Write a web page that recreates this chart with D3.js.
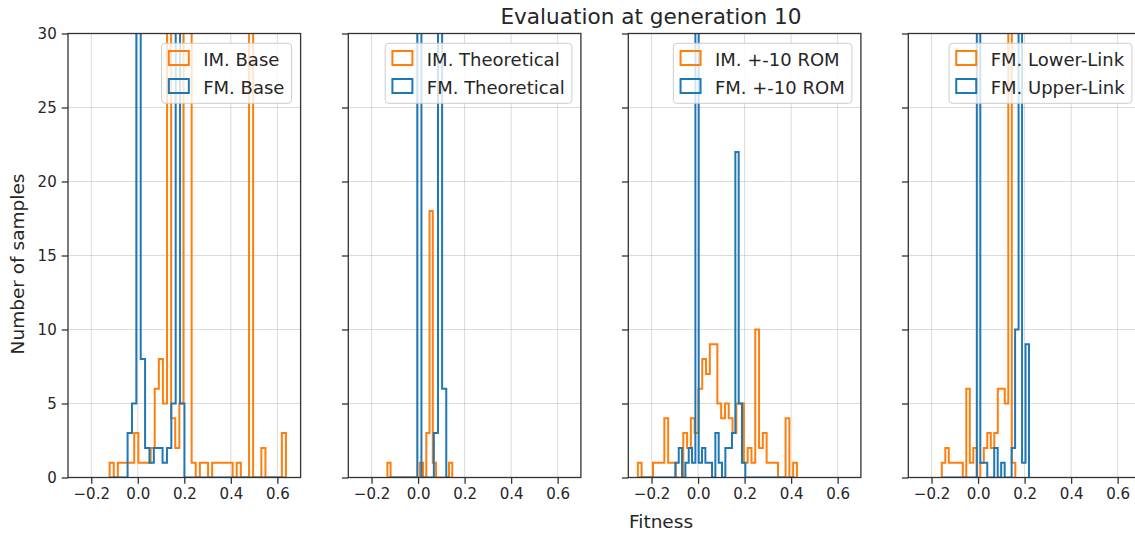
<!DOCTYPE html>
<html>
<head>
<meta charset="utf-8">
<script src="https://cdn.jsdelivr.net/npm/d3@7/dist/d3.min.js"></script>
<style>
  body { margin: 0; background: #fff; }
  text { font-family: "DejaVu Sans", sans-serif; fill: #262626; }
</style>
</head>
<body>
<svg id="chart" width="1135" height="533"></svg>
<script>
// ---- data ----
const xTicks = [-0.2, 0.0, 0.2, 0.4, 0.6];
const yTicks = [0, 5, 10, 15, 20, 25, 30];

const imLabels = ["IM. Base", "IM. Theoretical", "IM. +-10 ROM", "FM. Lower-Link"];
const fmLabels = ["FM. Base", "FM. Theoretical", "FM. +-10 ROM", "FM. Upper-Link"];

// histogram ranges [first edge, last edge] and bin counts
const imBaseRange = [-0.121, 0.637];
const imBaseCounts = [1,0,1,1,1,1,3,1,1,1,2,6,8,5,40,4,2,5,38,42,1,0,1,1,0,1,1,1,1,1,0,1,0,0,35,0,0,2,0,0,0,0,3];
const fmBaseRange = [-0.119, 0.633];
const fmBaseCounts = [0,0,0,0,3,5,40,8,2,1,2,2,1,2,5,42,5,0,0,0,0,0,0,0,0,0,0,0,0,0,0,0,0,0,0,0,0,0,0,0];

const imTheoRange = [-0.132, 0.147];
const imTheoCounts = [1,0,0,0,0,0,0,0,0,0,1,0,3,18,1,0,0,0,0,1];
const fmTheoRange = [-0.128, 0.139];
const fmTheoCounts = [0,0,0,0,0,0,0,45,0,0,0,3,40,6,0];

const imRomRange = [-0.259, 0.425];
const imRomCounts = [1,0,0,0,1,1,1,4,1,1,0,0,3,2,4,3,6,8,7,9,9,5,4,5,4,3,5,5,1,2,1,10,2,3,1,1,1,0,0,4,0,1];
const fmRomRange = [-0.255, 0.418];
const fmRomCounts = [0,0,0,0,0,0,0,0,0,0,0,1,2,0,1,2,1,45,1,2,1,1,0,3,1,0,2,2,3,22,5,1,0,0,0,0,0,0,0,0,0,0,0,0,0,0,0];

const lowerLinkRange = [-0.156, 0.160];
const lowerLinkCounts = [1,2,1,1,1,1,0,6,1,2,0,1,2,3,2,3,6,6,5,40,1];
const upperLinkRange = [-0.155, 0.219];
const upperLinkCounts = [0,0,0,0,0,0,0,0,0,0,45,1,1,0,0,2,0,1,0,0,2,10,40,1,9];

const imRanges = [imBaseRange, imTheoRange, imRomRange, lowerLinkRange];
const imCounts = [imBaseCounts, imTheoCounts, imRomCounts, lowerLinkCounts];
const fmRanges = [fmBaseRange, fmTheoRange, fmRomRange, upperLinkRange];
const fmCounts = [fmBaseCounts, fmTheoCounts, fmRomCounts, upperLinkCounts];

// ---- layout ----
const orange = "#ff7f0e", blue = "#1f77b4";
const panelLeft = [68, 348.3, 628.3, 908.3];
const panelW = 232.6;
const plotTop = 33.5, plotBottom = 477.5;
const plotH = plotBottom - plotTop;

const svg = d3.select("#chart");

const x = d3.scaleLinear().domain([-0.3, 0.7]).range([0, panelW]);
const y = d3.scaleLinear().domain([0, 30]).range([plotH, 0]);

// step outline like matplotlib histtype='step'
function stepPoints(range, counts) {
  const n = counts.length;
  const edges = d3.range(n + 1).map(i => range[0] + (range[1] - range[0]) * i / n);
  const pts = [[edges[0], 0]];
  counts.forEach((c, i) => {
    pts.push([edges[i], c]);
    pts.push([edges[i + 1], c]);
  });
  pts.push([edges[n], 0]);
  return pts;
}

const line = d3.line().x(d => x(d[0])).y(d => y(d[1]));

panelLeft.forEach((left, p) => {
  const g = svg.append("g").attr("transform", `translate(${left},${plotTop})`);

  g.append("clipPath").attr("id", "clip" + p)
    .append("rect").attr("width", panelW).attr("height", plotH);

  // grid
  g.selectAll(".gx").data(xTicks).join("line")
    .attr("x1", d => x(d)).attr("x2", d => x(d))
    .attr("y1", 0).attr("y2", plotH)
    .attr("stroke", "#b0b0b0").attr("stroke-opacity", 0.45).attr("stroke-width", 1);
  g.selectAll(".gy").data(yTicks).join("line")
    .attr("y1", d => y(d)).attr("y2", d => y(d))
    .attr("x1", 0).attr("x2", panelW)
    .attr("stroke", "#b0b0b0").attr("stroke-opacity", 0.45).attr("stroke-width", 1);

  const plot = g.append("g").attr("clip-path", `url(#clip${p})`);
  plot.append("path")
    .datum(stepPoints(imRanges[p], imCounts[p]))
    .attr("d", line).attr("fill", "none")
    .attr("stroke", orange).attr("stroke-width", 2);
  plot.append("path")
    .datum(stepPoints(fmRanges[p], fmCounts[p]))
    .attr("d", line).attr("fill", "none")
    .attr("stroke", blue).attr("stroke-width", 2);

  // axes
  const xAxis = d3.axisBottom(x).tickValues(xTicks)
    .tickFormat(d => d3.format(".1f")(d).replace("-", "\u2212"))
    .tickSize(6.3).tickPadding(5);
  const yAxis = d3.axisLeft(y).tickValues(yTicks)
    .tickSize(6.3).tickPadding(5);
  if (p > 0) yAxis.tickFormat("");

  const xa = g.append("g").attr("transform", `translate(0,${plotH})`).call(xAxis);
  const ya = g.append("g").call(yAxis);
  [xa, ya].forEach(a => {
    a.select(".domain").remove();
    a.selectAll("line").attr("stroke", "#333").attr("stroke-width", 1.3);
    a.selectAll("text").attr("font-size", 15).attr("fill", "#262626")
      .style("font-family", '"DejaVu Sans", sans-serif');
  });

  // spines
  g.append("rect").attr("width", panelW).attr("height", plotH)
    .attr("fill", "none").attr("stroke", "#333").attr("stroke-width", 1.3);

  // legend
  const lg = g.append("g");
  const labels = [imLabels[p], fmLabels[p]];
  const colors = [orange, blue];
  const texts = labels.map((t, i) => lg.append("text")
    .attr("font-size", 18).attr("y", 22.7 + 28 * i).text(t));
  const tw = d3.max(texts, t => t.node().getComputedTextLength());
  const lw = 7.2 + 20 + 14.4 + tw + 7.2;
  const lx = panelW - 9 - lw, ly = 9.8;
  lg.insert("rect", "text").attr("x", lx).attr("y", ly)
    .attr("width", lw).attr("height", 60).attr("rx", 3.5)
    .attr("fill", "#fff").attr("fill-opacity", 0.8)
    .attr("stroke", "#cccccc").attr("stroke-width", 1);
  labels.forEach((t, i) => {
    lg.append("rect")
      .attr("x", lx + 7.2).attr("y", ly + 7.7 + 28 * i)
      .attr("width", 20).attr("height", 14)
      .attr("fill", "none").attr("stroke", colors[i]).attr("stroke-width", 2);
  });
  texts.forEach((t, i) => t.attr("x", lx + 7.2 + 20 + 14.4).attr("y", ly + 22.7 + 28 * i));
});

// titles
svg.append("text").attr("x", 651).attr("y", 24).attr("text-anchor", "middle")
  .attr("font-size", 21.6).text("Evaluation at generation 10");
svg.append("text").attr("x", 661).attr("y", 528).attr("text-anchor", "middle")
  .attr("font-size", 18.5).text("Fitness");
svg.append("text").attr("transform", "translate(17.5,264) rotate(-90)")
  .attr("text-anchor", "middle").attr("dy", "0.35em")
  .attr("font-size", 18.5).text("Number of samples");
</script>
</body>
</html>
